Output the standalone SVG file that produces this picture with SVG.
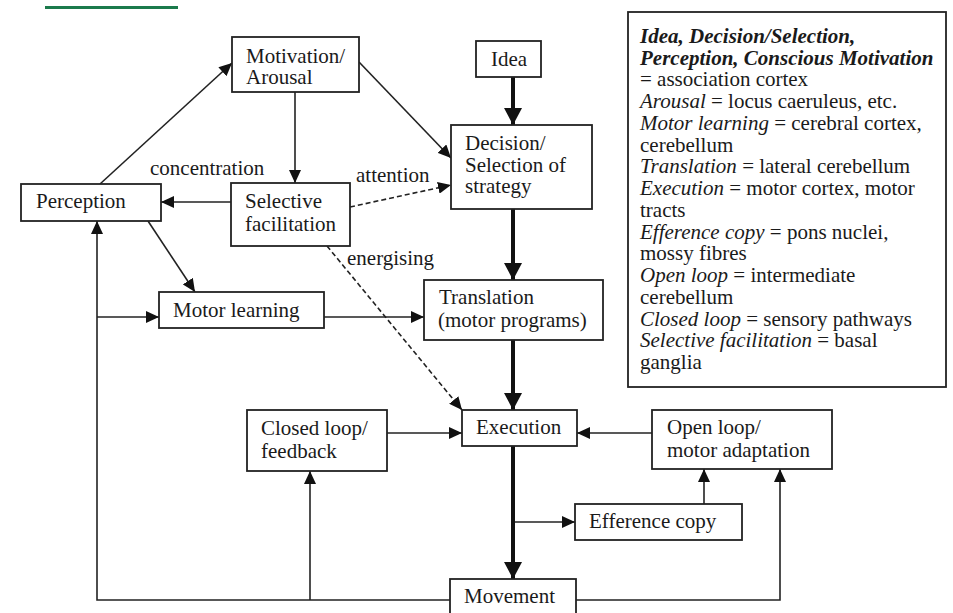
<svg xmlns="http://www.w3.org/2000/svg" width="953" height="613" viewBox="0 0 953 613">
<style>
.box{fill:#fff;stroke:#222;stroke-width:1.8}
.t{font-family:"Liberation Serif","Times New Roman",serif;font-size:21px;fill:#1a1a1a}
.lg{font-family:"Liberation Serif","Times New Roman",serif;font-size:21px;fill:#1a1a1a}
.c{fill:none;stroke:#222;stroke-width:1.6}
.d{stroke-dasharray:5,3}
.k{fill:none;stroke:#111;stroke-width:4}
</style>
<defs>
<marker id="a" markerUnits="userSpaceOnUse" markerWidth="13" markerHeight="12" refX="13" refY="6" orient="auto"><path d="M0,0 L13,6 L0,12 z" fill="#111"/></marker>
<marker id="b" markerUnits="userSpaceOnUse" markerWidth="17" markerHeight="18" refX="17" refY="9" orient="auto"><path d="M0,0 L17,9 L0,18 z" fill="#111"/></marker>
</defs>
<rect x="45" y="6" width="133" height="3" fill="#1b7a4c"/>
<g id="connectors">
<line class="c" x1="100" y1="184" x2="232" y2="63" marker-end="url(#a)"/>
<line class="c" x1="359" y1="62" x2="451" y2="158" marker-end="url(#a)"/>
<line class="c" x1="295" y1="92" x2="295" y2="183" marker-end="url(#a)"/>
<line class="c" x1="231" y1="202" x2="161" y2="202" marker-end="url(#a)"/>
<line class="c d" x1="350" y1="207" x2="451" y2="185" marker-end="url(#a)"/>
<line class="c" x1="148" y1="221" x2="195" y2="292" marker-end="url(#a)"/>
<polyline class="c" points="450,600 97,600 97,221" marker-end="url(#a)"/>
<line class="c" x1="97" y1="317" x2="159" y2="317" marker-end="url(#a)"/>
<line class="c" x1="324" y1="317" x2="424" y2="317" marker-end="url(#a)"/>
<line class="c d" x1="327" y1="246" x2="462" y2="410" marker-end="url(#a)"/>
<line class="c" x1="387" y1="433" x2="462" y2="433" marker-end="url(#a)"/>
<line class="c" x1="310" y1="600" x2="310" y2="471" marker-end="url(#a)"/>
<line class="c" x1="652" y1="433" x2="577" y2="433" marker-end="url(#a)"/>
<line class="c" x1="513" y1="522" x2="575" y2="522" marker-end="url(#a)"/>
<line class="c" x1="704" y1="504" x2="704" y2="469" marker-end="url(#a)"/>
<polyline class="c" points="576,600 780,600 780,469" marker-end="url(#a)"/>
<line class="k" x1="513" y1="77" x2="513" y2="125" marker-end="url(#b)"/>
<line class="k" x1="513" y1="209" x2="513" y2="280" marker-end="url(#b)"/>
<line class="k" x1="513" y1="340" x2="513" y2="410" marker-end="url(#b)"/>
<line class="k" x1="513" y1="446" x2="513" y2="579" marker-end="url(#b)"/>
<text class="t" x="150" y="175">concentration</text>
<text class="t" x="356" y="182">attention</text>
<text class="t" x="347" y="265">energising</text>
</g>
<g id="motivation"><rect class="box" x="232" y="37" width="127" height="55"/><text class="t" x="246" y="63">Motivation/</text><text class="t" x="246" y="84">Arousal</text></g>
<g id="idea"><rect class="box" x="476" y="41" width="65" height="36"/><text class="t" x="491" y="66">Idea</text></g>
<g id="decision"><rect class="box" x="451" y="125" width="141" height="84"/><text class="t" x="465" y="150">Decision/</text><text class="t" x="465" y="172">Selection of</text><text class="t" x="465" y="193">strategy</text></g>
<g id="perception"><rect class="box" x="21" y="184" width="140" height="37"/><text class="t" x="36" y="208">Perception</text></g>
<g id="selective"><rect class="box" x="231" y="183" width="119" height="63"/><text class="t" x="245" y="208">Selective</text><text class="t" x="245" y="231">facilitation</text></g>
<g id="motorlearning"><rect class="box" x="159" y="292" width="165" height="36"/><text class="t" x="173" y="317">Motor learning</text></g>
<g id="translation"><rect class="box" x="424" y="280" width="179" height="60"/><text class="t" x="439" y="304">Translation</text><text class="t" x="438" y="327">(motor programs)</text></g>
<g id="closedloop"><rect class="box" x="247" y="410" width="140" height="61"/><text class="t" x="261" y="435">Closed loop/</text><text class="t" x="261" y="458">feedback</text></g>
<g id="execution"><rect class="box" x="462" y="410" width="115" height="36"/><text class="t" x="476" y="434">Execution</text></g>
<g id="openloop"><rect class="box" x="652" y="410" width="180" height="59"/><text class="t" x="667" y="434">Open loop/</text><text class="t" x="667" y="457">motor adaptation</text></g>
<g id="efference"><rect class="box" x="575" y="504" width="167" height="36"/><text class="t" x="589" y="528">Efference copy</text></g>
<g id="movement"><rect class="box" x="450" y="579" width="126" height="45"/><text class="t" x="464" y="603">Movement</text></g>
<g id="legend">
<rect class="box" x="628" y="12" width="318" height="375"/>
<text class="lg" x="640" y="43" font-style="italic" font-weight="bold">Idea, Decision/Selection,</text>
<text class="lg" x="640" y="65" font-style="italic" font-weight="bold">Perception, Conscious Motivation</text>
<text class="lg" x="640" y="86">= association cortex</text>
<text class="lg" x="640" y="108"><tspan font-style="italic">Arousal</tspan> = locus caeruleus, etc.</text>
<text class="lg" x="640" y="130"><tspan font-style="italic">Motor learning</tspan> = cerebral cortex,</text>
<text class="lg" x="640" y="152">cerebellum</text>
<text class="lg" x="640" y="173"><tspan font-style="italic">Translation</tspan> = lateral cerebellum</text>
<text class="lg" x="640" y="195"><tspan font-style="italic">Execution</tspan> = motor cortex, motor</text>
<text class="lg" x="640" y="217">tracts</text>
<text class="lg" x="640" y="239"><tspan font-style="italic">Efference copy</tspan> = pons nuclei,</text>
<text class="lg" x="640" y="260">mossy fibres</text>
<text class="lg" x="640" y="282"><tspan font-style="italic">Open loop</tspan> = intermediate</text>
<text class="lg" x="640" y="304">cerebellum</text>
<text class="lg" x="640" y="326"><tspan font-style="italic">Closed loop</tspan> = sensory pathways</text>
<text class="lg" x="640" y="347"><tspan font-style="italic">Selective facilitation</tspan> = basal</text>
<text class="lg" x="640" y="369">ganglia</text>
</g>
</svg>
